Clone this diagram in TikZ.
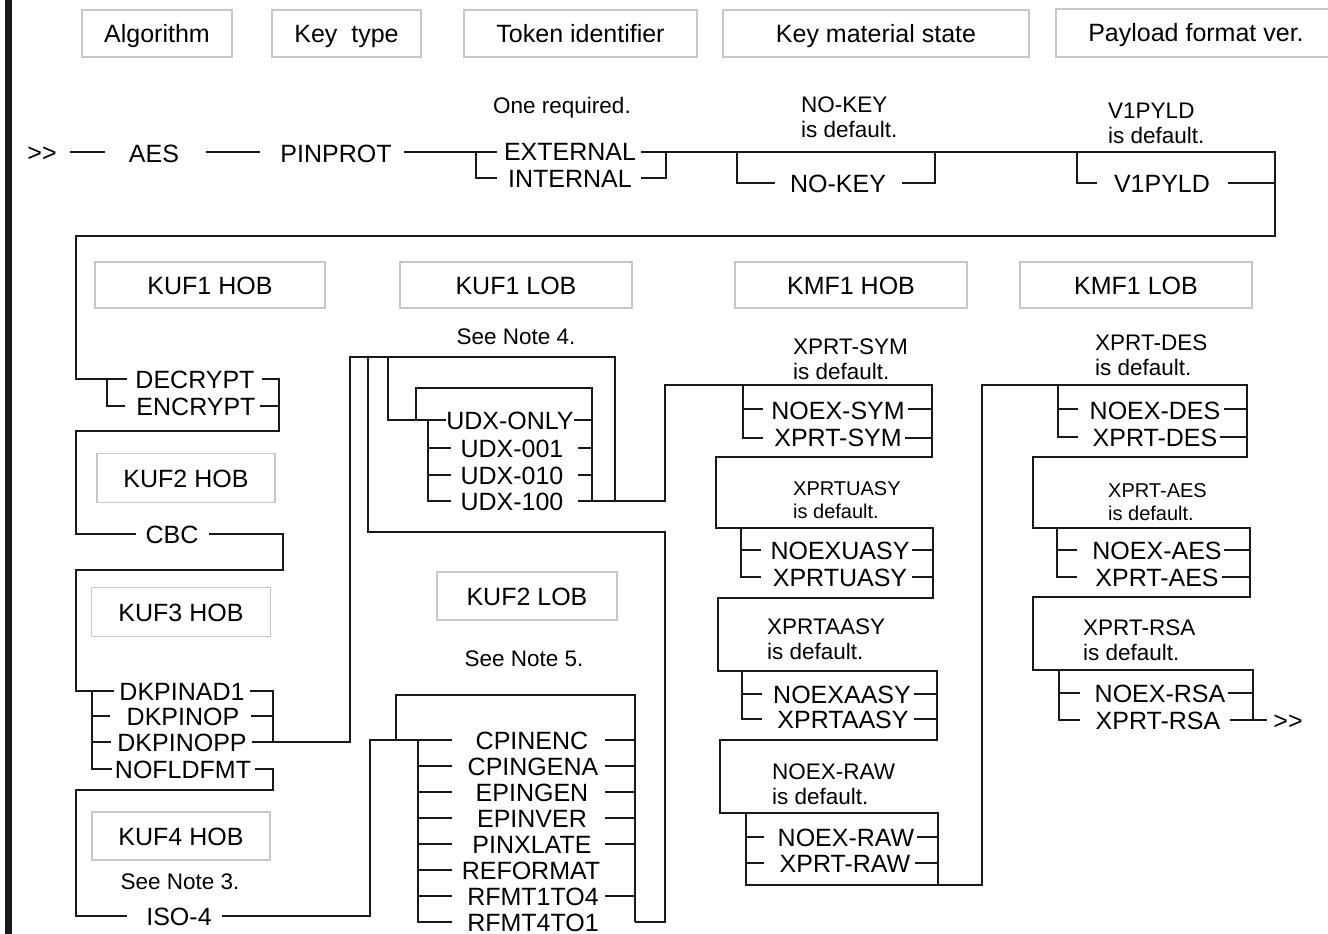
\documentclass[tikz,border=0pt]{standalone}
\usepackage{fontspec}
\setmainfont{Liberation Sans}
\usetikzlibrary{calc}

\begin{document}
\begin{tikzpicture}[x=1pt, y=-1pt,
 rail/.style={line width=2pt, draw=black!90},
 hdr/.style={draw=black!22, line width=1.2pt, inner sep=0pt, text height=18pt, text depth=0pt, font=\fontsize{25}{28}\selectfont},
 opt/.style={inner sep=0pt, text height=18pt, text depth=0pt, font=\fontsize{25}{28}\selectfont},
 note/.style={inner sep=0pt, text height=16pt, text depth=0pt, font=\fontsize{22.5}{24.5}\selectfont},
 dflt/.style={inner sep=0pt, anchor=north west, align=left, font=\fontsize{22.5}{24.5}\selectfont},
 sdflt/.style={dflt, font=\fontsize{20}{23}\selectfont}]
\useasboundingbox (0,0) rectangle (1328,934);
\fill[black!90] (5,0) rectangle (12,934);
% field headings
\node[hdr, minimum width=150pt, minimum height=47pt] (alg) at (157,33.5) {Algorithm};
\node[hdr, minimum width=149pt, minimum height=47pt] (ktype) at (346.5,33.5) {Key\ \ type};
\node[hdr, minimum width=233pt, minimum height=47pt] (tokid) at (580.5,33.5) {Token identifier};
\node[hdr, minimum width=306pt, minimum height=47pt] (kmstate) at (876,33.5) {Key material state};
\node[hdr, minimum width=280pt, minimum height=48pt] (pfver) at (1196,33) {Payload format ver.};
\node[hdr, minimum width=230pt, minimum height=46pt] (kuf1h) at (210,285) {KUF1 HOB};
\node[hdr, minimum width=232pt, minimum height=46pt] (kuf1l) at (516,285) {KUF1 LOB};
\node[hdr, minimum width=232pt, minimum height=46pt] (kmf1h) at (851,285) {KMF1 HOB};
\node[hdr, minimum width=232pt, minimum height=46pt] (kmf1l) at (1136,285) {KMF1 LOB};
\node[hdr, minimum width=178pt, minimum height=49pt] (kuf2h) at (186,478) {KUF2 HOB};
\node[hdr, minimum width=179pt, minimum height=49pt] (kuf3h) at (181,612) {KUF3 HOB};
\node[hdr, minimum width=180pt, minimum height=48pt] (kuf2l) at (527,596) {KUF2 LOB};
\node[hdr, minimum width=178pt, minimum height=48pt] (kuf4h) at (181,836) {KUF4 HOB};
% notes
\node[note] (req) at (562,105) {One required.};
\node[note] (sn4) at (516,336) {See Note 4.};
\node[note] (sn5) at (524,658) {See Note 5.};
\node[note] (sn3) at (180,881) {See Note 3.};
\node[dflt] (nkdef) at (801,97) {NO-KEY\\is default.};
\node[dflt] (v1def) at (1108,103) {V1PYLD\\is default.};
\node[dflt] (symdef) at (793,339) {XPRT-SYM\\is default.};
\node[sdflt] (uasydef) at (793,481) {XPRTUASY\\is default.};
\node[dflt] (aasydef) at (767,619) {XPRTAASY\\is default.};
\node[dflt] (rawdef) at (772,764) {NOEX-RAW\\is default.};
\node[dflt] (desdef) at (1095,335) {XPRT-DES\\is default.};
\node[sdflt] (aesdef) at (1108,483) {XPRT-AES\\is default.};
\node[dflt] (rsadef) at (1083,620) {XPRT-RSA\\is default.};
% keywords
\node[opt] (start) at (42,152) {{>}{>}};
\node[opt] (aes) at (154,153) {AES};
\node[opt] (pinprot) at (336,153) {PINPROT};
\node[opt] (ext) at (570,151) {EXTERNAL};
\node[opt] (int) at (570,178) {INTERNAL};
\node[opt] (nokey) at (838,183) {NO-KEY};
\node[opt] (v1pyld) at (1162,183) {V1PYLD};
\node[opt] (decr) at (195,379) {DECRYPT};
\node[opt] (encr) at (196,406) {ENCRYPT};
\node[opt] (cbc) at (172,534) {CBC};
\node[opt] (dkad1) at (182,691) {DKPINAD1};
\node[opt] (dkop) at (183,716) {DKPINOP};
\node[opt] (dkopp) at (182,742) {DKPINOPP};
\node[opt] (nofld) at (183,769) {NOFLDFMT};
\node[opt] (iso) at (179,916) {ISO-4};
\node[opt] (udxo) at (510,420) {UDX-ONLY};
\node[opt] (udx1) at (512,448) {UDX-001};
\node[opt] (udx10) at (512,475) {UDX-010};
\node[opt] (udx100) at (512,501) {UDX-100};
\node[opt] (cpenc) at (532,740) {CPINENC};
\node[opt] (cpgena) at (533,766) {CPINGENA};
\node[opt] (epgen) at (532,792) {EPINGEN};
\node[opt] (epver) at (532,818) {EPINVER};
\node[opt] (pinx) at (532,844) {PINXLATE};
\node[opt] (refmt) at (531,870) {REFORMAT};
\node[opt] (rfa) at (533,896) {RFMT1TO4};
\node[opt] (rfb) at (533,922) {RFMT4TO1};
\node[opt] (nsym) at (838,410) {NOEX-SYM};
\node[opt] (xsym) at (838,437) {XPRT-SYM};
\node[opt] (nuasy) at (840,550) {NOEXUASY};
\node[opt] (xuasy) at (840,577) {XPRTUASY};
\node[opt] (naasy) at (842,694) {NOEXAASY};
\node[opt] (xaasy) at (843,719) {XPRTAASY};
\node[opt] (nraw) at (846,837) {NOEX-RAW};
\node[opt] (xraw) at (845,863) {XPRT-RAW};
\node[opt] (ndes) at (1155,410) {NOEX-DES};
\node[opt] (xdes) at (1155,437) {XPRT-DES};
\node[opt] (naes) at (1157,550) {NOEX-AES};
\node[opt] (xaes) at (1157,577) {XPRT-AES};
\node[opt] (nrsa) at (1160,693) {NOEX-RSA};
\node[opt] (xrsa) at (1158,720) {XPRT-RSA};
\node[opt] (stop) at (1288,720) {{>}{>}};
% first line
\draw[rail] (70,152) -- (105,152);
\draw[rail] (206,152) -- (260,152);
\draw[rail] (404,152) -- (497,152);
\draw[rail] (476,152) |- (497,178);
\draw[rail] (641,152) -- (1275,152) -- (1275,236) -- (76,236) -- (76,379) -- (127,379);
\draw[rail] (641,178) -| (666,152);
\draw[rail] (737,152) |- (775,183);
\draw[rail] (902,183) -| (935,152);
\draw[rail] (1077,152) |- (1097,183);
\draw[rail] (1228,183) -- (1275,183);
% KUF1 HOB to KUF4 HOB
\draw[rail] (107,379) |- (125,406);
\draw[rail] (262,379) -| (279,431) -- (76,431) -- (76,534) -- (136,534);
\draw[rail] (260,406) -- (279,406);
\draw[rail] (209,534) -| (283,570) -- (76,570) -- (76,691) -- (114,691);
\draw[rail] (92,691) |- (112,769);
\draw[rail] (92,716) -- (110,716);
\draw[rail] (92,742) -- (111,742);
\draw[rail] (250,691) -| (273,742);
\draw[rail] (251,716) -- (273,716);
\draw[rail] (252,742) -- (350,742) -- (350,357) -- (615,357) -- (615,501);
\draw[rail] (255,769) -| (273,790) -- (76,790) -- (76,916) -- (127,916);
% KUF1 LOB
\draw[rail] (388,357) |- (446,420);
\draw[rail] (416,420) |- (592,388) -- (592,501);
\draw[rail] (428,420) |- (451,501);
\draw[rail] (428,448) -- (451,448);
\draw[rail] (428,475) -- (451,475);
\draw[rail] (574,420) -- (592,420);
\draw[rail] (578,448) -- (592,448);
\draw[rail] (578,475) -- (592,475);
% KUF2 LOB
\draw[rail] (368,357) |- (665,532) -- (665,922) -- (635,922);
\draw[rail] (222,916) -| (370,740) -- (452,740);
\draw[rail] (396,740) |- (635,695) -- (635,922);
\draw[rail] (418,740) -- (418,922) -- (452,922);
\foreach \yy in {766,792,818,844,870,896}
  \draw[rail] (418,\yy) -- (452,\yy);
\foreach \yy in {740,766,792,818,844,896}
  \draw[rail] (605,\yy) -- (635,\yy);
% KMF1 HOB
\draw[rail] (578,501) -- (665,501) -- (665,385) -- (932,385) -- (932,457) -- (716,457) -- (716,528) -- (933,528) -- (933,598) -- (718,598) -- (718,671) -- (937,671) -- (937,740) -- (720,740) -- (720,813) -- (938,813) -- (938,885);
\draw[rail] (743,385) |- (763,438);
\draw[rail] (743,409) -- (763,409);
\draw[rail] (908,409) -- (932,409);
\draw[rail] (905,438) -- (932,438);
\draw[rail] (741,528) |- (761,577);
\draw[rail] (741,550) -- (761,550);
\draw[rail] (912,550) -- (933,550);
\draw[rail] (912,577) -- (933,577);
\draw[rail] (742,671) |- (762,719);
\draw[rail] (742,694) -- (762,694);
\draw[rail] (914,694) -- (937,694);
\draw[rail] (914,719) -- (937,719);
\draw[rail] (746,837) -- (764,837);
\draw[rail] (746,863) -- (764,863);
\draw[rail] (917,837) -- (938,837);
\draw[rail] (915,863) -- (938,863);
% KMF1 LOB
\draw[rail] (746,813) -- (746,885) -- (982,885) -- (982,385) -- (1247,385) -- (1247,457) -- (1033,457) -- (1033,528) -- (1250,528) -- (1250,597) -- (1033,597) -- (1033,670) -- (1253,670) -- (1253,720);
\draw[rail] (1058,385) |- (1078,437);
\draw[rail] (1058,409) -- (1078,409);
\draw[rail] (1224,409) -- (1247,409);
\draw[rail] (1220,437) -- (1247,437);
\draw[rail] (1057,528) |- (1077,577);
\draw[rail] (1057,550) -- (1077,550);
\draw[rail] (1224,550) -- (1250,550);
\draw[rail] (1222,577) -- (1250,577);
\draw[rail] (1059,670) |- (1080,720);
\draw[rail] (1059,693) -- (1080,693);
\draw[rail] (1228,693) -- (1253,693);
\draw[rail] (1230,720) -- (1267,720);
\end{tikzpicture}
\end{document}
